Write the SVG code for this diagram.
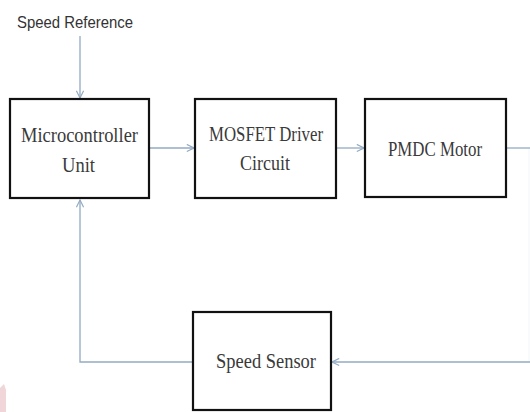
<svg xmlns="http://www.w3.org/2000/svg" width="530" height="412" viewBox="0 0 530 412">
<style>
.box{fill:#fff;stroke:#111;stroke-width:2.2}
.lbl{font-family:"Liberation Serif",serif;font-size:20.5px;fill:#3a3a3a;text-anchor:middle}
.con{fill:none;stroke:#93aac2;stroke-width:1.3}
.ref{font-family:"Liberation Sans",Arial,sans-serif;font-size:17px;fill:#333}
</style>
<defs>
<marker id="ah" viewBox="0 0 10 10" refX="9" refY="5" markerWidth="9" markerHeight="9" markerUnits="userSpaceOnUse" orient="auto">
<path d="M1,1 L9,5 L1,9" fill="none" stroke="#93aac2" stroke-width="1.3"/>
</marker>
</defs>
<rect width="530" height="412" fill="#fff"/>
<path d="M0,388 L4,384 L6,390 L6,412 L0,412 Z" fill="#f0d6d8"/>
<text class="ref" x="17" y="28" textLength="116" lengthAdjust="spacingAndGlyphs">Speed Reference</text>
<g id="connectors">
<path class="con" d="M80,36 V98" marker-end="url(#ah)"/>
<path class="con" d="M150,148 H194" marker-end="url(#ah)"/>
<path class="con" d="M337,148 H364" marker-end="url(#ah)"/>
<path class="con" d="M507,148 H530"/>
<path class="con" d="M529,148 V362" stroke-opacity="0.1"/>
<path class="con" d="M530,362 H332" marker-end="url(#ah)"/>
<path class="con" d="M192,362 H80 V200" marker-end="url(#ah)"/>
</g>
<g id="mcu">
<rect class="box" x="10" y="99" width="139" height="99"/>
<text class="lbl" x="79.5" y="142" textLength="117" lengthAdjust="spacingAndGlyphs">Microcontroller</text>
<text class="lbl" x="78.5" y="172" textLength="33" lengthAdjust="spacingAndGlyphs">Unit</text>
</g>
<g id="mosfet">
<rect class="box" x="195" y="99" width="141" height="99"/>
<text class="lbl" x="266" y="141" textLength="114" lengthAdjust="spacingAndGlyphs">MOSFET Driver</text>
<text class="lbl" x="265" y="170" textLength="50" lengthAdjust="spacingAndGlyphs">Circuit</text>
</g>
<g id="pmdc">
<rect class="box" x="365" y="99" width="141" height="98"/>
<text class="lbl" x="435" y="156" textLength="94" lengthAdjust="spacingAndGlyphs">PMDC Motor</text>
</g>
<g id="sensor">
<rect class="box" x="193" y="312" width="138" height="98"/>
<text class="lbl" x="266" y="368" textLength="100" lengthAdjust="spacingAndGlyphs">Speed Sensor</text>
</g>
</svg>
